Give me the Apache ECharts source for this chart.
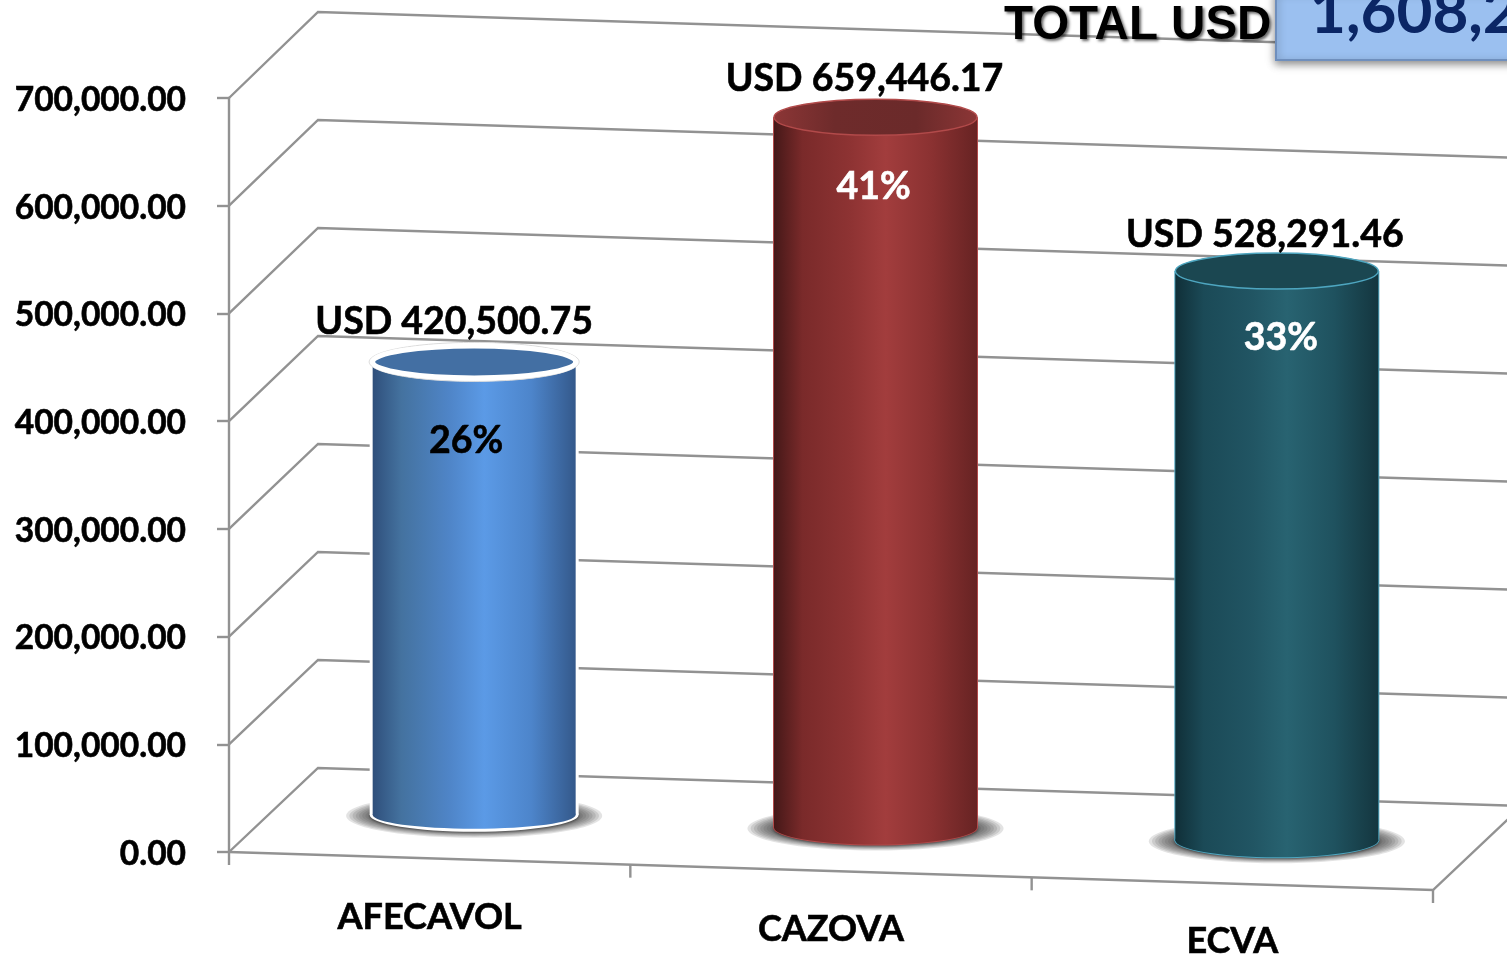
<!DOCTYPE html>
<html>
<head>
<meta charset="utf-8">
<style>html,body{margin:0;padding:0;background:#fff;overflow:hidden}#c{width:1507px;height:954px}</style>
<script src="https://cdn.jsdelivr.net/npm/echarts@6/dist/echarts.min.js"></script>
</head>
<body>
<div id="c"></div>
<script>
const categories = ['AFECAVOL', 'CAZOVA', 'ECVA'];
const values = [420500.75, 659446.17, 528291.46];
const percents = ['26%', '41%', '33%'];
const yTicks = [0, 100000, 200000, 300000, 400000, 500000, 600000, 700000];
const totalLabel = 'TOTAL USD';
const totalValue = '1,608,238.38';

const FONT = 'Lato, "Open Sans", sans-serif';
const LINE = '#929292';
const LW = 2.4;
const DX = 89, DY = -84, DY_STRETCH = 2 / 754;   // depth of the box
const SLOPE = 38 / 1204;          // floor shear
const RY = 18;
const LABEL_TEXT = ['#000', '#fff', '#fff'];
const VALUE_OFF = [[-20, -40], [-11, -38], [-12, -36]];
const PCT_OFF = [[-8, 79], [-2, 70], [4, 67]];
const CAT_PAD = [0, 12, 24];
const palette = [
  { edge: '#fff', sw: 5, bodyW: 203, outerW: 209, bodyRy: 14, outerRy: 17, outline: '#dcdcdc', top: '#436fa3', body: ['#2f4f7b', '#44729f', '#4f85c8', '#5b9ae6', '#4d85cb', '#34598b'] },
  { edge: '#b24a4a', sw: 1.5, bodyW: 203, outerW: 205, bodyRy: 17, outerRy: 18, top: ['#8c3636', '#6e2b2b', '#6b2a2a', '#8c3636'], body: ['#451818', '#7a2a2a', '#8e3333', '#a23d3d', '#8a3131', '#672323'] },
  { edge: '#4ea6c0', sw: 1.5, bodyW: 203, outerW: 205, bodyRy: 17, outerRy: 18, top: '#1b4751', body: ['#102f38', '#1b4a57', '#215563', '#286371', '#1f525f', '#14363f'] }
];
function hGrad(stops) {
  const pos = stops.length === 6 ? [0, 0.14, 0.38, 0.55, 0.78, 1] : [0, 0.3, 0.7, 1];
  return new echarts.graphic.LinearGradient(0, 0, 1, 0, stops.map((c, i) => ({ offset: pos[i], color: c })));
}

const chart = echarts.init(document.getElementById('c'), null, { renderer: 'canvas' });

function renderWalls(params, api) {
  const cs = params.coordSys;
  const y = api.coord([0, api.value(0)])[1];
  const x0 = cs.x, x1 = cs.x + cs.width;
  const shear = (x1 - x0) * SLOPE;
  const yBack = y + DY - (cs.y + cs.height - y) * DY_STRETCH;
  const children = [{
    type: 'polyline',
    shape: { points: [[x0, y], [x0 + DX, yBack], [x1 + DX, yBack + shear]] },
    style: { stroke: LINE, lineWidth: LW, fill: null }
  }];
  if (params.dataIndex === 0) {
    children.push({ type: 'polyline', shape: { points: [[x0, y], [x1, y + shear], [x1 + DX, y + shear + DY]] }, style: { stroke: LINE, lineWidth: LW, fill: null } });
    children.push({ type: 'line', shape: { x1: x0, y1: y, x2: x0, y2: y + 13 }, style: { stroke: LINE, lineWidth: LW } });
    categories.forEach((c, i) => {
      const tx = x0 + cs.width * (i + 1) / categories.length;
      const ty = y + (tx - x0) * SLOPE;
      children.push({ type: 'line', shape: { x1: tx, y1: ty, x2: tx, y2: ty + 13 }, style: { stroke: LINE, lineWidth: LW } });
    });
  }
  return { type: 'group', children };
}

function renderCylinder(params, api) {
  const i = api.value(0);
  const cs = params.coordSys;
  const base = api.coord([i, 0]);
  const head = api.coord([i, api.value(1)]);
  const shear = (base[0] - cs.x) * SLOPE + DY * 0.5 - 1.5;
  const cx = base[0] + DX * 0.5;
  const yb = base[1] + shear, yt = head[1] + shear;
  const p = palette[i];
  const grad = hGrad(p.body);
  const top = Array.isArray(p.top) ? hGrad(p.top) : p.top;
  const children = [];
  for (let k = 0; k < 9; k++) {
    children.push({ type: 'ellipse', shape: { cx, cy: yb + 1, rx: 128 - k * 3.2, ry: 22 - k * 1.1 },
      style: { fill: 'rgba(70,70,70,0.15)' } });
  }
  children.push(
    { type: 'ellipse', shape: { cx, cy: yb, rx: p.outerW / 2, ry: p.outerRy }, style: { fill: p.edge, shadowBlur: 3, shadowColor: 'rgba(0,0,0,.45)', shadowOffsetY: 1 } },
    { type: 'rect', shape: { x: cx - p.outerW / 2, y: yt, width: p.outerW, height: yb - yt }, style: { fill: p.edge } },
    { type: 'ellipse', shape: { cx, cy: yb, rx: p.bodyW / 2, ry: p.bodyRy }, style: { fill: grad } },
    { type: 'rect', shape: { x: cx - p.bodyW / 2, y: yt, width: p.bodyW, height: yb - yt }, style: { fill: grad } }
  );
  if (p.outline) {
    children.push({ type: 'ellipse', shape: { cx, cy: yt, rx: p.outerW / 2 + 0.5, ry: RY + 1.5 }, style: { fill: '#fff', stroke: p.outline, lineWidth: 1 } });
  }
  children.push(
    { type: 'ellipse', shape: { cx, cy: yt, rx: p.bodyW / 2, ry: RY - (p.sw > 2 ? 2 : 0) }, style: { fill: top, stroke: p.edge, lineWidth: p.sw } },
    { type: 'text', x: cx + VALUE_OFF[i][0], y: yt + VALUE_OFF[i][1],
      style: { text: 'USD ' + api.value(1).toLocaleString('en-US', { minimumFractionDigits: 2, maximumFractionDigits: 2 }),
        fill: '#000', stroke: '#000', lineWidth: 0.6, font: 'bold 37.5px ' + FONT, align: 'center', verticalAlign: 'middle' } },
    { type: 'text', x: cx + PCT_OFF[i][0], y: yt + PCT_OFF[i][1],
      style: { text: percents[i], fill: LABEL_TEXT[i], stroke: LABEL_TEXT[i], lineWidth: 0.6, font: 'bold 37.5px ' + FONT, align: 'center', verticalAlign: 'middle' } }
  );
  return { type: 'group', children };
}

const labelStyle = { fontFamily: FONT, fontWeight: 'bold', color: '#000', textBorderColor: '#000', textBorderWidth: 0.6 };
const rich = {};
categories.forEach((c, i) => {
  rich['c' + i] = Object.assign({ fontSize: 36, padding: [CAT_PAD[i], 0, 0, 0] }, labelStyle);
});

chart.setOption({
  animation: false,
  backgroundColor: '#fff',
  grid: { left: 229, top: 98, width: 1204, height: 754, outerBoundsMode: 'none', containLabel: false },
  xAxis: {
    type: 'category', data: categories, boundaryGap: true,
    axisLine: { show: false }, axisTick: { show: false }, splitLine: { show: false },
    axisLabel: { margin: 47, interval: 0, hideOverlap: false, formatter: (v) => '{c' + categories.indexOf(v) + '|' + v + '}', rich }
  },
  yAxis: {
    type: 'value', min: 0, max: 700000, interval: 100000,
    axisLine: { show: true, lineStyle: { color: LINE, width: LW } },
    axisTick: { show: true, length: 12, lineStyle: { color: LINE, width: LW } },
    splitLine: { show: false },
    axisLabel: { margin: 43,
      rich: { t: Object.assign({ fontSize: 33.5, padding: [4, 0, 0, 0] }, labelStyle) },
      formatter: (v) => '{t|' + v.toLocaleString('en-US', { minimumFractionDigits: 2, maximumFractionDigits: 2 }) + '}' }
  },
  series: [
    { type: 'custom', name: 'walls', clip: false, silent: true, z: 1, data: yTicks.map(v => [v]),
      encode: { y: 0 }, renderItem: renderWalls },
    { type: 'custom', name: 'values', clip: false, silent: true, z: 2, data: values.map((v, i) => [i, v]),
      encode: { x: 0, y: 1 }, renderItem: renderCylinder }
  ],
  graphic: [
    { type: 'rect', z: 10, shape: { x: 1276, y: -10, width: 260, height: 70 },
      style: { fill: '#9bc0f0', stroke: '#6f8fbd', lineWidth: 2, shadowBlur: 8, shadowColor: 'rgba(0,0,0,.45)', shadowOffsetY: 3 } },
    { type: 'text', z: 11, x: 1004, y: 26,
      style: { text: totalLabel, font: 'bold 47.5px "Liberation Sans", Arial, sans-serif', fill: '#000', verticalAlign: 'middle',
        textShadowBlur: 3, textShadowColor: 'rgba(0,0,0,.6)', textShadowOffsetX: 2, textShadowOffsetY: 2 } },
    { type: 'text', z: 11, x: 1310, y: 13,
      style: { text: totalValue, font: 'bold 62px ' + FONT, fill: '#0b2665', verticalAlign: 'middle' } }
  ]
});
</script>
</body>
</html>
